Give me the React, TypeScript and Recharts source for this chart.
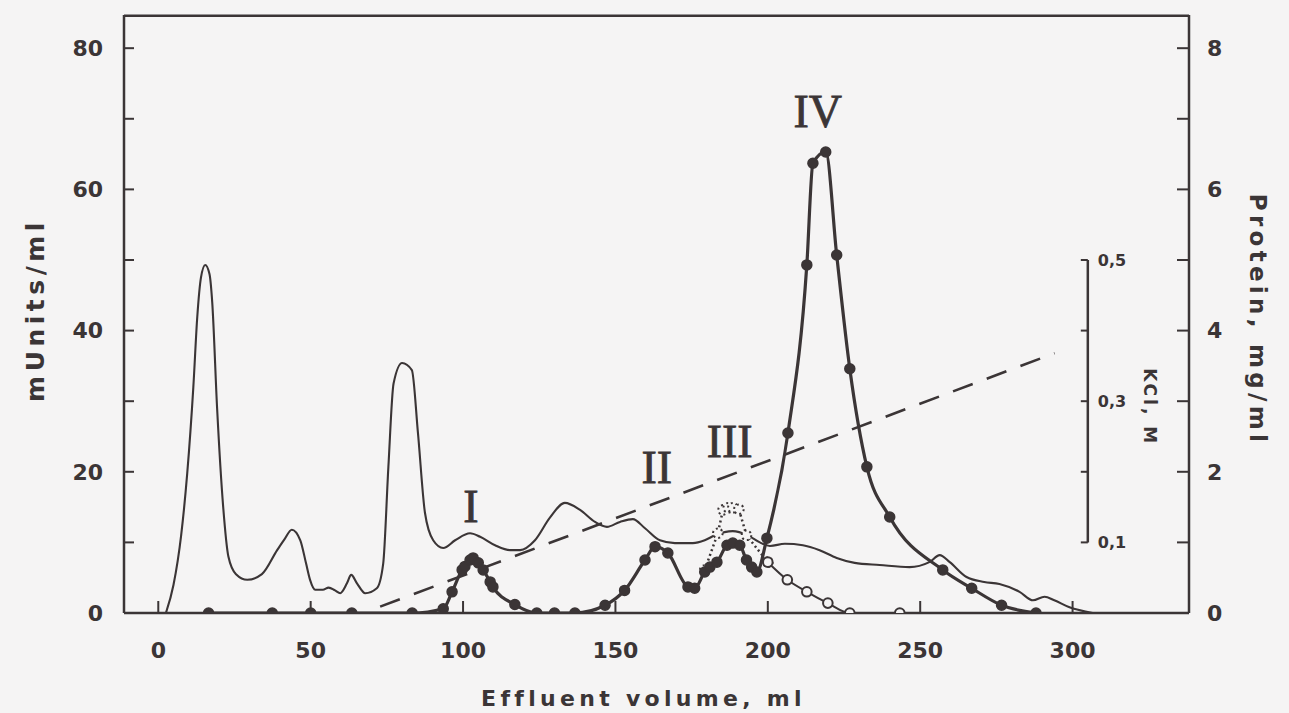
import React from 'react';
import { LineChart, Line, XAxis, YAxis, ReferenceLine, ReferenceDot } from 'recharts';

const INK = '#3b3536';
const PAPER = '#f5f4f4';
const SANS = '"DejaVu Sans", Verdana, sans-serif';
const SERIF = '"Liberation Serif", "Times New Roman", serif';

// thin trace: protein, mg/ml  [effluent ml, mg/ml]
const protein: [number, number][] = [
  [2.5, 0], [5, 0.4], [7.5, 1.1], [9.5, 1.98], [11.5, 3.2], [12.8, 4.2], [14, 4.75], [15.4, 4.93],
  [16.8, 4.8], [17.7, 4.4], [19.3, 2.9], [21.3, 1.5], [23, 0.8], [25.5, 0.55], [29.2, 0.47],
  [34, 0.55], [39, 0.89], [41.5, 1.05], [43.8, 1.18], [46.6, 1.03], [48.5, 0.7], [49.8, 0.47],
  [51.5, 0.33], [54, 0.33], [55.9, 0.36], [58, 0.32], [59.7, 0.28], [61.9, 0.42], [63.3, 0.54],
  [65.2, 0.42], [67.9, 0.28], [71.7, 0.35], [73.8, 0.7], [75.5, 2.07], [77.2, 3.25], [80, 3.54],
  [83.2, 3.44], [85.2, 2.55], [87.5, 1.42], [90.2, 1.03], [93.5, 0.92], [97.4, 1.03], [102.3, 1.13],
  [105.6, 1.08], [110.5, 0.96], [115.4, 0.89], [118.7, 0.89], [123.6, 1.03], [128.5, 1.35],
  [133.4, 1.56], [138.4, 1.46], [143.3, 1.29], [147.2, 1.22], [151.5, 1.29], [155.7, 1.33],
  [159.7, 1.2], [164.6, 1.03], [169.5, 0.99], [175.4, 0.99], [179.3, 1.03], [182.6, 1.1],
  [188.5, 1.16], [193.4, 1.1], [197.4, 1.0], [200.7, 0.95], [205.6, 0.98], [211.5, 0.96],
  [217, 0.89], [222.6, 0.78], [228.5, 0.71], [236.7, 0.68], [246.5, 0.65], [253, 0.72],
  [256.4, 0.82], [259.7, 0.72], [265.2, 0.51], [271, 0.44], [276, 0.41], [282.6, 0.3],
  [287, 0.18], [290.8, 0.23], [294, 0.18], [299, 0.08], [306.6, 0],
];

// thick trace with filled dots: activity, mUnits/ml
const activity: [number, number][] = [
  [16.5, 0], [37.4, 0], [50, 0], [63.5, 0], [83.3, 0], [93.5, 0.6], [96.4, 3], [99.7, 6.1],
  [100.6, 6.6], [102.3, 7.5], [103.3, 7.8], [105, 7.1], [106.6, 6.1], [108.9, 4.4], [109.8, 3.7],
  [117, 1.2], [124.2, 0], [130, 0], [136.7, 0], [146.6, 1.1], [153, 3.2], [159.7, 7.5], [163, 9.4],
  [167.2, 8.5], [173.8, 3.7], [176, 3.5], [179.3, 5.8], [181, 6.5], [183.3, 7.2], [186.6, 9.6],
  [188.5, 9.9], [190.8, 9.6], [193, 7.5], [194.7, 6.5], [196.4, 5.8], [199.7, 10.6], [206.6, 25.5],
  [212.8, 49.3], [214.8, 63.7], [219, 65.3], [222.6, 50.7], [226.9, 34.6], [232.5, 20.7],
  [240, 13.6], [257.4, 6.1], [266.9, 3.5], [276.7, 1.1], [288, 0],
];

// open circles, dotted part and solid tail: mUnits/ml
const openDotted: [number, number][] = [
  [179.3, 6.1], [183.6, 11.3], [185.3, 14.6], [187, 14.9], [188.5, 14.9], [190.5, 14.7],
  [193, 11], [200, 7.2],
];
const openSolid: [number, number][] = [
  [200, 7.2], [206.4, 4.7], [212.8, 3], [219.7, 1.4], [226.9, 0], [243.3, 0],
];

// KCl gradient, M
const kclGradient: [number, number][] = [[72.8, 0.009], [294.1, 0.368]];

const xTicks = [0, 50, 100, 150, 200, 250, 300];
const leftTicks = [0, 10, 20, 30, 40, 50, 60, 70, 80];
const rightTicks = [0, 1, 2, 3, 4, 5, 6, 7, 8];
const kclTicks = [0.1, 0.2, 0.3, 0.4, 0.5];
const kclTickLabels = ['0,1', '', '0,3', '', '0,5'];

const peakNames = ['I', 'II', 'III', 'IV'];
const peakMl = [102.6, 163.6, 187.5, 216.4];
const peakMu = [15.2, 20.7, 24.4, 71.1];

const KCL_AXIS_ML = 305;
const LEFT_W = 124;

const rows = (pts: [number, number][], key: string) => pts.map(([ml, y]) => ({ ml, [key]: y }));

const tickFont = { fill: INK, fontSize: 22, fontWeight: 700, fontFamily: SANS };
const titleFont = { fill: INK, fontSize: 22, fontWeight: 700, fontFamily: SANS, letterSpacing: 4.3 };
const openDot = { r: 4.8, fill: PAPER, stroke: INK, strokeWidth: 2 };

// left title drawn from the axis box (keeps clear of the axis stacking)
const LeftTitle = (props: any) => {
  const vb = props.viewBox || {};
  const cx = LEFT_W * 0.285;
  const cy = (vb.y ?? 15) + (vb.height ?? 598) / 2 - 4;
  return (
    <text
      x={cx}
      y={cy}
      transform={`rotate(-90, ${cx}, ${cy})`}
      textAnchor="middle"
      dominantBaseline="central"
      fill={INK}
      fontSize={25}
      fontWeight={700}
      fontFamily={SANS}
      letterSpacing={4.5}
    >
      mUnits/ml
    </text>
  );
};

export default function App() {
  return (
    <div style={{ position: 'absolute', left: 0, top: 0, width: 1289, height: 713, background: PAPER }}>
      <LineChart width={1289} height={713} margin={{ top: 15, right: 0, bottom: 0, left: 0 }}>
        <XAxis
          dataKey="ml"
          type="number"
          domain={[-11.25, 338.2]}
          allowDataOverflow
          ticks={xTicks}
          interval={0}
          height={100}
          axisLine={{ stroke: INK, strokeWidth: 2.5 }}
          tickLine={{ stroke: INK, strokeWidth: 2 }}
          tickSize={-12}
          tickMargin={41}
          tick={tickFont}
          label={{ value: 'Effluent volume, ml', position: 'center', dx: -13, dy: 35, ...titleFont }}
        />
        <YAxis
          yAxisId="left"
          domain={[0, 84.7]}
          allowDataOverflow
          ticks={leftTicks}
          interval={0}
          width={LEFT_W}
          axisLine={{ stroke: INK, strokeWidth: 2.5 }}
          tickLine={{ stroke: INK, strokeWidth: 2 }}
          tickSize={-10}
          tickMargin={31}
          tick={tickFont}
          tickFormatter={(v: number) => (v % 20 === 0 ? String(v) : '')}
          label={<LeftTitle />}
        />
        <YAxis
          yAxisId="right"
          orientation="right"
          domain={[0, 8.47]}
          allowDataOverflow
          ticks={rightTicks}
          interval={0}
          width={100}
          axisLine={{ stroke: INK, strokeWidth: 2.5 }}
          tickLine={{ stroke: INK, strokeWidth: 2 }}
          tickSize={-12}
          tickMargin={30}
          tick={tickFont}
          tickFormatter={(v: number) => (v % 2 === 0 ? String(v) : '')}
          label={{ value: 'Protein, mg/ml', angle: 90, position: 'center', dx: 19, dy: 6, ...titleFont, fontSize: 23 }}
        />
        <YAxis yAxisId="kcl" hide width={0} domain={[0, 0.847]} allowDataOverflow />

        {/* top frame */}
        <ReferenceLine yAxisId="left" y={84.6} stroke={INK} strokeWidth={2.5} />

        {/* inner KCl scale */}
        <ReferenceLine
          yAxisId="kcl"
          segment={[{ x: KCL_AXIS_ML, y: kclTicks[0] }, { x: KCL_AXIS_ML, y: kclTicks[kclTicks.length - 1] }]}
          stroke={INK}
          strokeWidth={2.5}
          label={{ value: 'KCl, M', angle: 90, position: 'center', dx: 62, dy: 6, fill: INK, fontSize: 17, fontWeight: 700, fontFamily: SANS, letterSpacing: 3 }}
        />
        {kclTicks.map((t, i) => (
          <ReferenceLine
            key={t}
            yAxisId="kcl"
            segment={[{ x: KCL_AXIS_ML - 2.3, y: t }, { x: KCL_AXIS_ML, y: t }]}
            stroke={INK}
            strokeWidth={2}
            label={kclTickLabels[i] ? { value: kclTickLabels[i], position: 'right', offset: 10, fill: INK, fontSize: 16, fontWeight: 700, fontFamily: SANS } : undefined}
          />
        ))}

        <Line
          yAxisId="kcl"
          data={rows(kclGradient, 'kcl')}
          dataKey="kcl"
          type="linear"
          stroke={INK}
          strokeWidth={2.6}
          strokeDasharray="21 15"
          dot={false}
          isAnimationActive={false}
        />
        <Line
          yAxisId="right"
          data={rows(protein, 'mg')}
          dataKey="mg"
          type="monotone"
          stroke={INK}
          strokeWidth={2.1}
          dot={false}
          isAnimationActive={false}
        />
        <Line
          yAxisId="left"
          data={rows(openDotted, 'mu')}
          dataKey="mu"
          type="linear"
          stroke={INK}
          strokeWidth={2.5}
          strokeDasharray="2 3"
          dot={openDot}
          isAnimationActive={false}
        />
        <Line
          yAxisId="left"
          data={rows(openSolid, 'mu')}
          dataKey="mu"
          type="monotone"
          stroke={INK}
          strokeWidth={2}
          dot={openDot}
          isAnimationActive={false}
        />
        <Line
          yAxisId="left"
          data={rows(activity, 'mu')}
          dataKey="mu"
          type="monotone"
          stroke={INK}
          strokeWidth={3.2}
          dot={{ r: 5, fill: INK, stroke: INK, strokeWidth: 1.5 }}
          isAnimationActive={false}
        />

        {peakNames.map((name, i) => (
          <ReferenceDot
            key={name}
            yAxisId="left"
            x={peakMl[i]}
            y={peakMu[i]}
            r={0}
            fill="none"
            stroke="none"
            label={{ value: name, position: 'center', fill: INK, stroke: INK, strokeWidth: 0.8, fontSize: 46, fontFamily: SERIF }}
          />
        ))}
      </LineChart>
    </div>
  );
}
